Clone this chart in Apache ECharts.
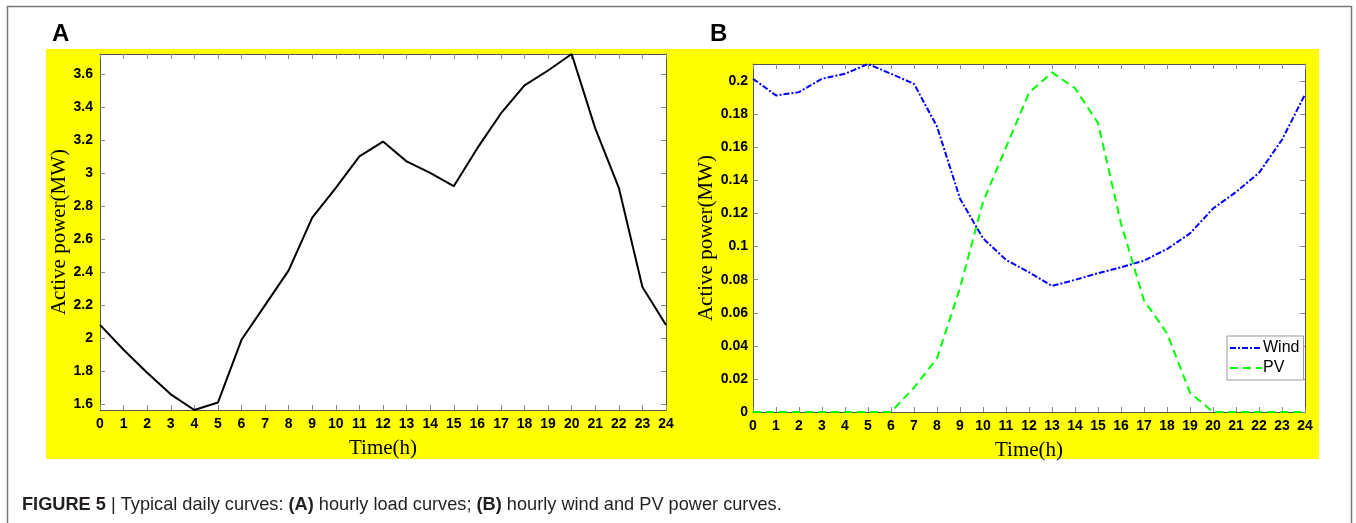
<!DOCTYPE html>
<html>
<head>
<meta charset="utf-8">
<script src="https://cdn.jsdelivr.net/npm/echarts@6/dist/echarts.min.js"></script>
<style>
html,body{margin:0;padding:0;background:#fff;}
#chart{width:1356px;height:523px;}
</style>
</head>
<body>
<div id="chart"></div>
<script>
// ---- data ----
const hours = [0,1,2,3,4,5,6,7,8,9,10,11,12,13,14,15,16,17,18,19,20,21,22,23,24];
const loadMW = [2.08,1.93,1.79,1.66,1.565,1.61,1.99,2.20,2.41,2.73,2.91,3.10,3.19,3.07,3.00,2.92,3.15,3.36,3.53,3.62,3.72,3.27,2.91,2.31,2.08];
const windMW = [0.2015,0.1914,0.1934,0.2015,0.2045,0.2104,0.2045,0.1984,0.1726,0.129,0.105,0.092,0.0845,0.0762,0.0799,0.0839,0.0875,0.0915,0.0985,0.108,0.123,0.133,0.1446,0.1646,0.192];
const pvMW = [0,0,0,0,0,0,0,0.0147,0.0325,0.075,0.127,0.160,0.193,0.2053,0.1958,0.1747,0.114,0.0675,0.0476,0.0117,0,0,0,0,0];
const yTicksA = [1.6,1.8,2,2.2,2.4,2.6,2.8,3,3.2,3.4,3.6];
const yTicksB = [0,0.02,0.04,0.06,0.08,0.1,0.12,0.14,0.16,0.18,0.2];
const xTicks = hours;
const yRangeA = [1.565, 3.72];
const yRangeB = [0, 0.2104];
const panelLabels = ['A','B'];
const seriesNames = ['Wind','PV'];
const xName = 'Time(h)';
const yName = 'Active power(MW)';
const caption = ['FIGURE 5', ' | Typical daily curves: ', '(A)', ' hourly load curves; ', '(B)', ' hourly wind and PV power curves.'];

// ---- chart ----
const chart = echarts.init(document.getElementById('chart'), null, {renderer:'canvas'});
const frameColor = '#555';
const tickColor = '#888';
const labelFont = {fontFamily:'Liberation Sans, Arial, sans-serif', fontSize:14, fontWeight:'bold', color:'#000'};
const nameFont = {fontFamily:'Liberation Serif, Times New Roman, serif', fontSize:21, color:'#000'};

function xAxisPair(gridIndex){
  return [
    {gridIndex, type:'value', min:0, max:24, position:'bottom',
     name:xName, nameLocation:'middle', nameGap:28, nameTextStyle:nameFont,
     axisLine:{show:true, onZero:false, lineStyle:{color:frameColor, width:1}},
     axisTick:{show:true, inside:true, length:5, customValues:xTicks, lineStyle:{color:tickColor}},
     axisLabel:{show:true, margin:7, customValues:xTicks, ...labelFont},
     splitLine:{show:false}},
    {gridIndex, type:'value', min:0, max:24, position:'top',
     axisLine:{show:true, onZero:false, lineStyle:{color:frameColor, width:1}},
     axisTick:{show:true, inside:true, length:5, customValues:xTicks, lineStyle:{color:tickColor}},
     axisLabel:{show:false}, splitLine:{show:false}}
  ];
}
function yAxisPair(gridIndex, range, ticks, gap, margin){
  return [
    {gridIndex, type:'value', min:range[0], max:range[1], position:'left',
     name:yName, nameLocation:'middle', nameGap:gap, nameTextStyle:nameFont,
     axisLine:{show:true, onZero:false, lineStyle:{color:frameColor, width:1}},
     axisTick:{show:true, inside:true, length:5, customValues:ticks, lineStyle:{color:tickColor}},
     axisLabel:{show:true, margin:margin, customValues:ticks, ...labelFont},
     splitLine:{show:false}},
    {gridIndex, type:'value', min:range[0], max:range[1], position:'right',
     axisLine:{show:true, onZero:false, lineStyle:{color:frameColor, width:1}},
     axisTick:{show:true, inside:true, length:5, customValues:ticks, lineStyle:{color:tickColor}},
     axisLabel:{show:false}, splitLine:{show:false}}
  ];
}

const option = {
  animation:false,
  backgroundColor:'#fff',
  graphic:{elements:[
    {type:'rect', z:-10, silent:true, shape:{x:46, y:49, width:1273, height:410}, style:{fill:'#ffff00'}},
    {type:'polyline', z:-5, silent:true, shape:{points:[[7.5,523],[7.5,6.5],[1351.5,6.5],[1351.5,523]]}, style:{stroke:'#777', lineWidth:1.5, fill:null}},
    {type:'text', left:52, top:22, style:{text:panelLabels[0], font:'bold 24px Liberation Sans, Arial, sans-serif', fill:'#000'}},
    {type:'text', left:710, top:22, style:{text:panelLabels[1], font:'bold 24px Liberation Sans, Arial, sans-serif', fill:'#000'}},
    {type:'text', left:22, top:496, style:{
      text:'{b|'+caption[0]+'}'+caption[1]+'{b|'+caption[2]+'}'+caption[3]+'{b|'+caption[4]+'}'+caption[5],
      fontFamily:'Liberation Sans, Arial, sans-serif', fontSize:18.2, fill:'#231f20',
      rich:{b:{fontFamily:'Liberation Sans, Arial, sans-serif', fontSize:18.2, fontWeight:'bold', fill:'#231f20'}}
    }}
  ]},
  grid:[
    {left:100, right:690, top:54, bottom:113, show:true, backgroundColor:'#fff', borderWidth:0},
    {left:753, right:51, top:64, bottom:111, show:true, backgroundColor:'#fff', borderWidth:0}
  ],
  xAxis:[...xAxisPair(0), ...xAxisPair(1)],
  yAxis:[...yAxisPair(0, yRangeA, yTicksA, 28, 7), ...yAxisPair(1, yRangeB, yTicksB, 34, 5)],
  legend:{
    data:seriesNames, orient:'vertical', left:1227, top:336,
    backgroundColor:'#fff', borderColor:'#999', borderWidth:1, borderRadius:0,
    padding:[4,4,4,2], itemGap:4, itemWidth:32, itemHeight:14,
    itemStyle:{opacity:0},
    textStyle:{fontFamily:'Liberation Sans, Arial, sans-serif', fontSize:16, color:'#000', padding:[0,0,0,-4]}
  },
  series:[
    {type:'line', xAxisIndex:0, yAxisIndex:0, showSymbol:false, symbol:'none',
     data:hours.map((h,i)=>[h, loadMW[i]]), lineStyle:{color:'#000', width:2}},
    {name:seriesNames[0], type:'line', xAxisIndex:2, yAxisIndex:2, showSymbol:false, symbol:'none',
     data:hours.map((h,i)=>[h, windMW[i]]), itemStyle:{color:'#0000ff'},
     lineStyle:{color:'#0000ff', width:2, type:[6,2,2,2]}},
    {name:seriesNames[1], type:'line', xAxisIndex:2, yAxisIndex:2, showSymbol:false, symbol:'none',
     data:hours.map((h,i)=>[h, pvMW[i]]), itemStyle:{color:'#00ff00'},
     lineStyle:{color:'#00ff00', width:2, type:[8,5]}}
  ]
};
chart.setOption(option);
</script>
</body>
</html>
